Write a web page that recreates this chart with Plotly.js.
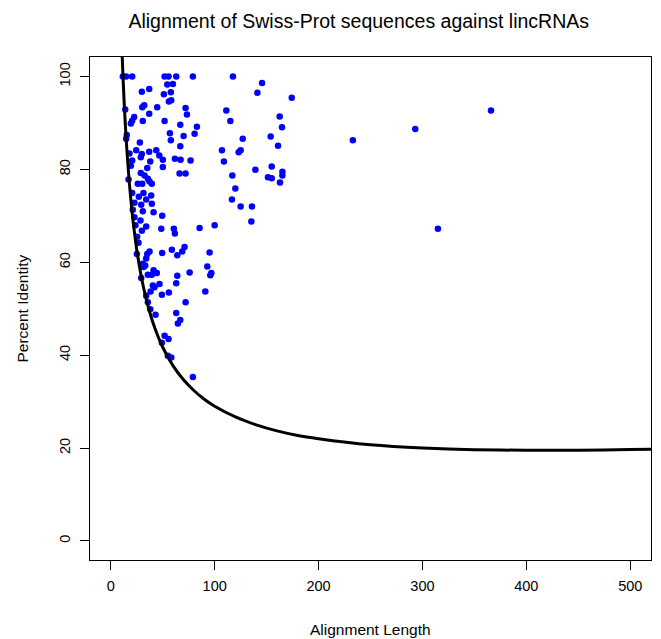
<!DOCTYPE html>
<html>
<head>
<meta charset="utf-8">
<script src="https://cdn.plot.ly/plotly-3.0.1.min.js"></script>
<style>
html,body{margin:0;padding:0;background:#fff;}
#chart{width:661px;height:639px;}
</style>
</head>
<body>
<div id="chart"></div>
<script>
// Alignment length (x) and percent identity (y) of each hit
const alignLength = [
  11.6,14.8,20.6,51.8,55.6,63,79,
  54.4,59.8,29.9,37,51.1,57.8,
  55.9,58.2,30.3,32.2,44.7,72,73.3,
  13.9,37,22.5,20.6,19.3,30.8,51.8,
  66.9,82.9,80.7,56.9,70.1,57.8,
  14.8,15.4,28,66.9,
  18,24.5,29.9,37,43.8,46.7,
  20.6,28.9,38,50.1,61.7,67.2,76.8,
  50.1,35.1,19.3,
  28.9,32.5,66.2,72,17.1,35.7,37.3,
  26,30.3,39.5,20.6,31.5,27,38.9,
  34.1,22.8,29.3,39.5,21.2,30.8,41.2,
  22.8,28.6,49.5,23.8,34.1,29.9,48.6,
  60.7,61.7,85.5,25.4,26.7,37.3,35.1,
  49.5,58.8,64,68.8,71,25.1,34.1,
  33.2,31.5,
  30.8,41.2,44.3,35.7,39.5,29.3,64,63,
  75.9,40.5,42.1,46.9,38.3,49.2,55.9,
  34.1,35.7,72,38,43.1,63,66.9,64.6,
  51.8,55.6,49.2,54.9,58.2,79,
  117.6,145.6,141.1,174.2,111.2,162.6,115.1,
  164.8,127,153.9,107,161,123.1,125,
  108.9,139.2,154.9,165.2,165.2,117,151.3,
  154.9,162.9,119.9,116.6,125,135.9,
  135.3,100,95.1,92.9,96.8,95.8,91,
  233,293.1,366,314.9
];
const percentIdentity = [
  100,100,100,100,100,100,100,
  98.3,98.4,96.7,97.3,96.2,96.6,
  94.6,94.9,93.4,93.8,93.4,93.2,91.8,
  92.9,92,91.3,90.5,89.9,90.4,90.4,
  89.6,89.2,87.7,87.8,87.2,86.3,
  86.6,87.4,85.8,85,
  83.4,84.1,83.3,83.8,84.1,83,
  81.9,82.6,81.7,82.1,82.3,82.1,81.9,
  80.5,80.3,80.8,
  79.2,78.7,79.1,79.1,77.8,78,77.4,
  76.9,76.9,76.9,74.9,74.9,74.1,74.4,
  73.5,72.8,72.4,72.6,71.3,71,70.8,
  69.7,69,70,68,67.7,66.8,67.2,
  67.2,66.2,67.4,65.5,64.2,62.3,61.8,
  62,62.7,61.5,62.3,63.3,61.8,60.8,
  59.3,59,
  59.7,58.3,57.7,57.3,57.3,56.6,57.1,55.5,
  57.8,55,54.6,55.3,53.7,53,53.5,
  52.8,51.4,51.4,49.9,48.7,49.1,47.6,46.8,
  44.2,43.5,42.7,39.9,39.5,35.3,
  100,98.6,96.5,95.4,92.7,91.4,90.4,
  89.1,86.6,87.1,84.1,85.1,83.7,84.1,
  81.7,79.9,80.6,79.5,78.7,78.7,78.3,
  78.1,77.2,75.9,73.5,72,72,
  68.8,68,62.1,59.1,57.7,57.2,53.7,
  86.3,88.7,92.7,67.2
];
// Threshold curve, values
const curveLength = [11,12,13,14,15,17,18,20,22,25,27,30,35,40,45,50,60,70,80,90,100,120,140,160,180,200,250,300,350,400,450,500,520];
const curveIdentity = [104.4,98.8,93.9,89.7,85.9,79.5,76.8,71.9,67.8,62.7,59.9,56.2,51.3,47.4,44.3,41.7,37.7,34.7,32.4,30.5,29.0,26.7,25.0,23.7,22.7,22.0,20.7,20.0,19.66,19.52,19.54,19.67,19.74];
const xTicks = [0,100,200,300,400,500];
const yTicks = [0,20,40,60,80,100];

const FONT = 'Liberation Sans, Arial, Helvetica, sans-serif';

const traces = [
  {
    x: alignLength, y: percentIdentity,
    type: 'scatter', mode: 'markers',
    marker: {color: '#0000FF', size: 6.5, line: {width: 0}},
    hoverinfo: 'skip', showlegend: false
  },
  {
    x: curveLength, y: curveIdentity,
    type: 'scatter', mode: 'lines',
    line: {color: '#000000', width: 3, shape: 'spline', smoothing: 0.6},
    hoverinfo: 'skip', showlegend: false
  }
];

const layout = {
  width: 661, height: 639,
  margin: {l: 90, r: 10, t: 57, b: 79, pad: 0},
  paper_bgcolor: '#ffffff', plot_bgcolor: '#ffffff',
  font: {family: FONT, color: '#000000', size: 14},
  title: {
    text: 'Alignment of Swiss-Prot sequences against lincRNAs',
    font: {family: FONT, size: 19.5, color: '#000000'},
    xref: 'paper', x: 0.479, xanchor: 'center',
    yref: 'container', y: 1 - 21/639, yanchor: 'middle'
  },
  xaxis: {
    range: [-20, 520], tickmode: 'array', tickvals: xTicks, ticktext: xTicks.map(String),
    ticks: 'outside', ticklen: 9, tickwidth: 1, tickcolor: '#000',
    showline: true, linecolor: '#000', linewidth: 1, mirror: true,
    showgrid: false, zeroline: false,
    tickfont: {family: FONT, size: 14.5, color: '#000'},
    ticklabelstandoff: 4
  },
  yaxis: {
    range: [-4.1, 104.2], tickmode: 'array', tickvals: yTicks, ticktext: yTicks.map(String),
    ticks: 'outside', ticklen: 9, tickwidth: 1, tickcolor: '#000',
    showline: true, linecolor: '#000', linewidth: 1, mirror: true,
    showgrid: false, zeroline: false, tickangle: -90,
    tickfont: {family: FONT, size: 14.5, color: '#000'},
    ticklabelstandoff: 4
  },
  annotations: [
    {text: 'Alignment Length', xref: 'paper', yref: 'paper', x: 0.5, y: -(629-560)/503,
     xanchor: 'center', yanchor: 'middle', showarrow: false, font: {family: FONT, size: 15.5, color: '#000'}},
    {text: 'Percent Identity', xref: 'paper', yref: 'paper', x: (22-90)/561, y: 0.5, textangle: -90,
     xanchor: 'center', yanchor: 'middle', showarrow: false, font: {family: FONT, size: 15.5, color: '#000'}}
  ]
};

Plotly.newPlot('chart', traces, layout, {staticPlot: true, displayModeBar: false});
</script>
</body>
</html>
